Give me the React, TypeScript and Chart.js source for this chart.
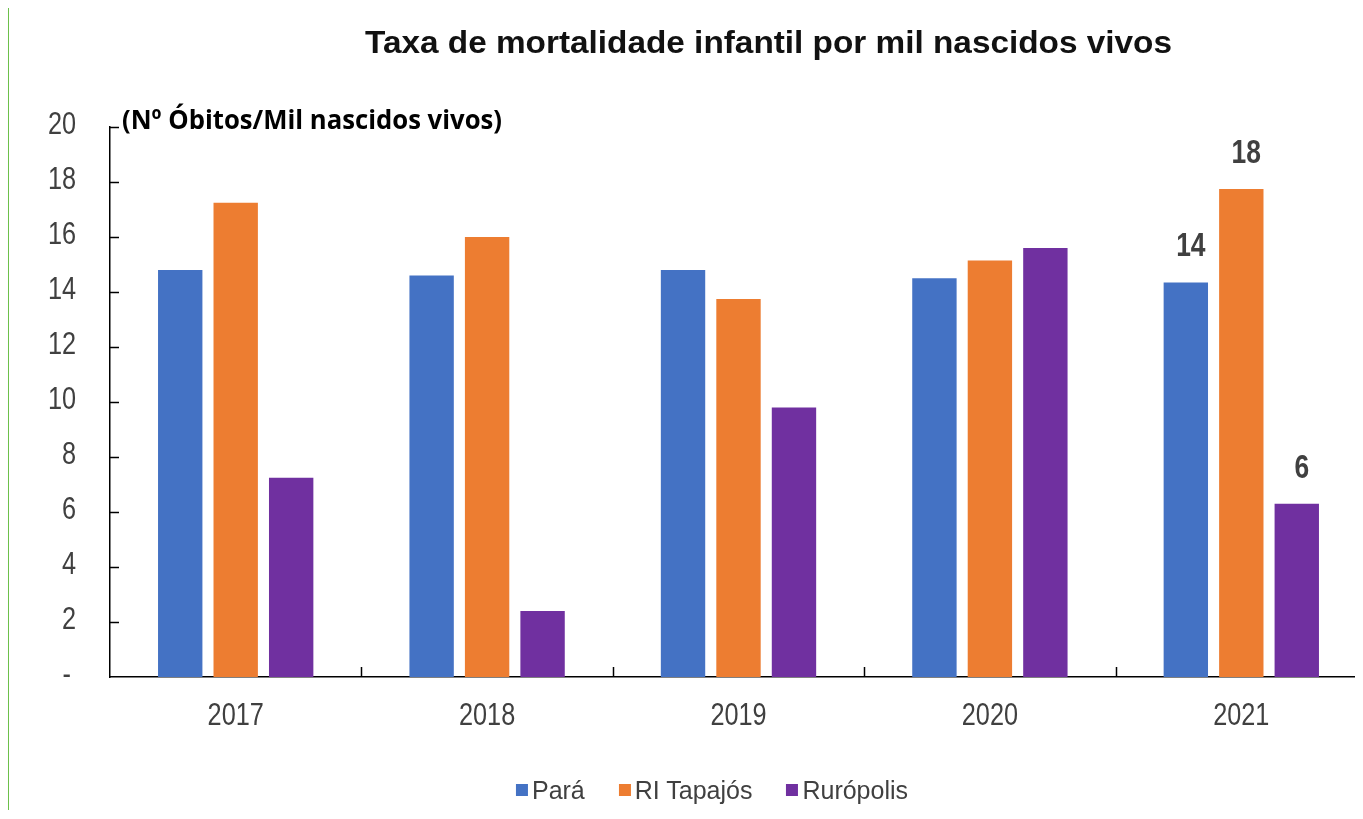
import React, { useEffect, useRef } from 'react';
import { Chart, registerables } from 'chart.js';

Chart.register(...registerables);

const years = ['2017', '2018', '2019', '2020', '2021'];
const para = [14.8, 14.6, 14.8, 14.5, 14.35];
const riTapajos = [17.25, 16.0, 13.75, 15.15, 17.75];
const ruropolis = [7.25, 2.4, 9.8, 15.6, 6.3];
const seriesNames = ['Pará', 'RI Tapajós', 'Rurópolis'];
const seriesColors = ['#4472C4', '#ED7D31', '#7030A0'];
const labelledYear = '2021';
const titleText = 'Taxa de mortalidade infantil por mil nascidos vivos';
const unitText = '(Nº Óbitos/Mil nascidos vivos)';

const SANS = '"Liberation Sans", Arial, sans-serif';
const OPEN = '"Open Sans", "Noto Sans", sans-serif';
const NARROW_SCALE = 0.79;

function fitText(ctx: CanvasRenderingContext2D, text: string, x: number, y: number, width: number, align: CanvasTextAlign) {
  const w = ctx.measureText(text).width;
  scaledText(ctx, text, x, y, width / w, align);
}

function scaledText(ctx: CanvasRenderingContext2D, text: string, x: number, y: number, sx: number, align: CanvasTextAlign) {
  ctx.save();
  ctx.translate(x, y);
  ctx.scale(sx, 1);
  ctx.textAlign = align;
  ctx.fillText(text, 0, 0);
  ctx.restore();
}

const overlayPlugin = {
  id: 'overlay',
  afterDraw(chart: any) {
    const { ctx, chartArea, scales } = chart;
    const xs = scales.x;
    const ys = scales.y;
    ctx.save();
    // inner tick marks
    ctx.strokeStyle = '#000';
    ctx.lineWidth = 1.5;
    ys.ticks.forEach((t: any) => {
      if (t.value === 0) return;
      const py = Math.round(ys.getPixelForValue(t.value)) + 0.5;
      ctx.beginPath();
      ctx.moveTo(chartArea.left, py);
      ctx.lineTo(chartArea.left + 9, py);
      ctx.stroke();
    });
    const step = xs.getPixelForValue(1) - xs.getPixelForValue(0);
    for (let i = 0; i < years.length; i++) {
      const px = Math.round(xs.getPixelForValue(i) + step / 2) + 0.5;
      ctx.beginPath();
      ctx.moveTo(px, chartArea.bottom);
      ctx.lineTo(px, chartArea.bottom - 10);
      ctx.stroke();
    }
    // tick labels
    ctx.fillStyle = '#404040';
    ctx.font = `32px ${SANS}`;
    ctx.textBaseline = 'middle';
    ys.ticks.forEach((t: any) => {
      const py = ys.getPixelForValue(t.value);
      if (t.value === 0) {
        scaledText(ctx, '-', chartArea.left - 39, py - 2, NARROW_SCALE, 'right');
      } else {
        scaledText(ctx, String(t.value), chartArea.left - 34, py - 2, NARROW_SCALE, 'right');
      }
    });
    years.forEach((yr, i) => {
      scaledText(ctx, yr, xs.getPixelForValue(i), chartArea.bottom + 39, NARROW_SCALE, 'center');
    });
    // data labels
    const idx = years.indexOf(labelledYear);
    ctx.fillStyle = '#404040';
    ctx.font = `bold 33px ${SANS}`;
    ctx.textBaseline = 'middle';
    chart.data.datasets.forEach((ds: any, di: number) => {
      const bar = chart.getDatasetMeta(di).data[idx];
      const v = ds.data[idx];
      scaledText(ctx, String(Math.round(v)), bar.x + 5, bar.y - 35, 0.8, 'center');
    });
    // title
    ctx.textBaseline = 'alphabetic';
    ctx.fillStyle = '#111';
    ctx.font = `bold 32px ${SANS}`;
    fitText(ctx, titleText, 759.5, 45, 807, 'center');
    // unit label
    ctx.fillStyle = '#000';
    ctx.font = `bold 27px ${OPEN}`;
    fitText(ctx, unitText, 113, 121, 380, 'left');
    ctx.restore();
  },
};

export default function App() {
  const ref = useRef<HTMLCanvasElement>(null);
  useEffect(() => {
    const canvas = ref.current!;
    const datasets = [para, riTapajos, ruropolis].map((d, i) => ({
      label: seriesNames[i],
      data: d,
      backgroundColor: seriesColors[i],
      borderWidth: 0,
      categoryPercentage: 0.662,
      barPercentage: 0.8,
    }));
    const chart = new Chart(canvas, {
      type: 'bar',
      data: { labels: years, datasets },
      options: {
        responsive: false,
        animation: false,
        layout: { padding: { top: 119, left: 0, right: 2, bottom: 0 } },
        plugins: {
          legend: { display: false },
          title: { display: false },
          tooltip: { enabled: false },
        },
        scales: {
          x: {
            grid: { display: false, drawTicks: false },
            border: { display: true, color: '#000', width: 1.5 },
            ticks: { display: false },
            afterFit: (s: any) => { s.height = 133; },
          },
          y: {
            min: 0,
            max: 20,
            grid: { display: false, drawTicks: false },
            border: { display: true, color: '#000', width: 1.5 },
            ticks: { display: false, stepSize: 2 },
            afterFit: (s: any) => { s.width = 101; },
          },
        },
      },
      plugins: [overlayPlugin],
    });
    return () => chart.destroy();
  }, []);

  return (
    <div style={{ position: 'relative', width: 1354, height: 802, overflow: 'hidden', borderLeft: '1px solid #6cc04a', background: '#fff' }}>
      <canvas ref={ref} width={1360} height={802} style={{ display: 'block' }} />
      <div style={{ position: 'absolute', left: 703, top: 769, transform: 'translateX(-50%)', display: 'flex', alignItems: 'center', gap: 34, whiteSpace: 'nowrap', fontFamily: SANS, fontSize: 25, color: '#404040', lineHeight: '26px' }}>
        {seriesNames.map((n, i) => (
          <div key={n} style={{ display: 'flex', alignItems: 'center' }}>
            <span style={{ display: 'inline-block', width: 12, height: 12, background: seriesColors[i], marginRight: 4 }} />
            <span>{n}</span>
          </div>
        ))}
      </div>
    </div>
  );
}
